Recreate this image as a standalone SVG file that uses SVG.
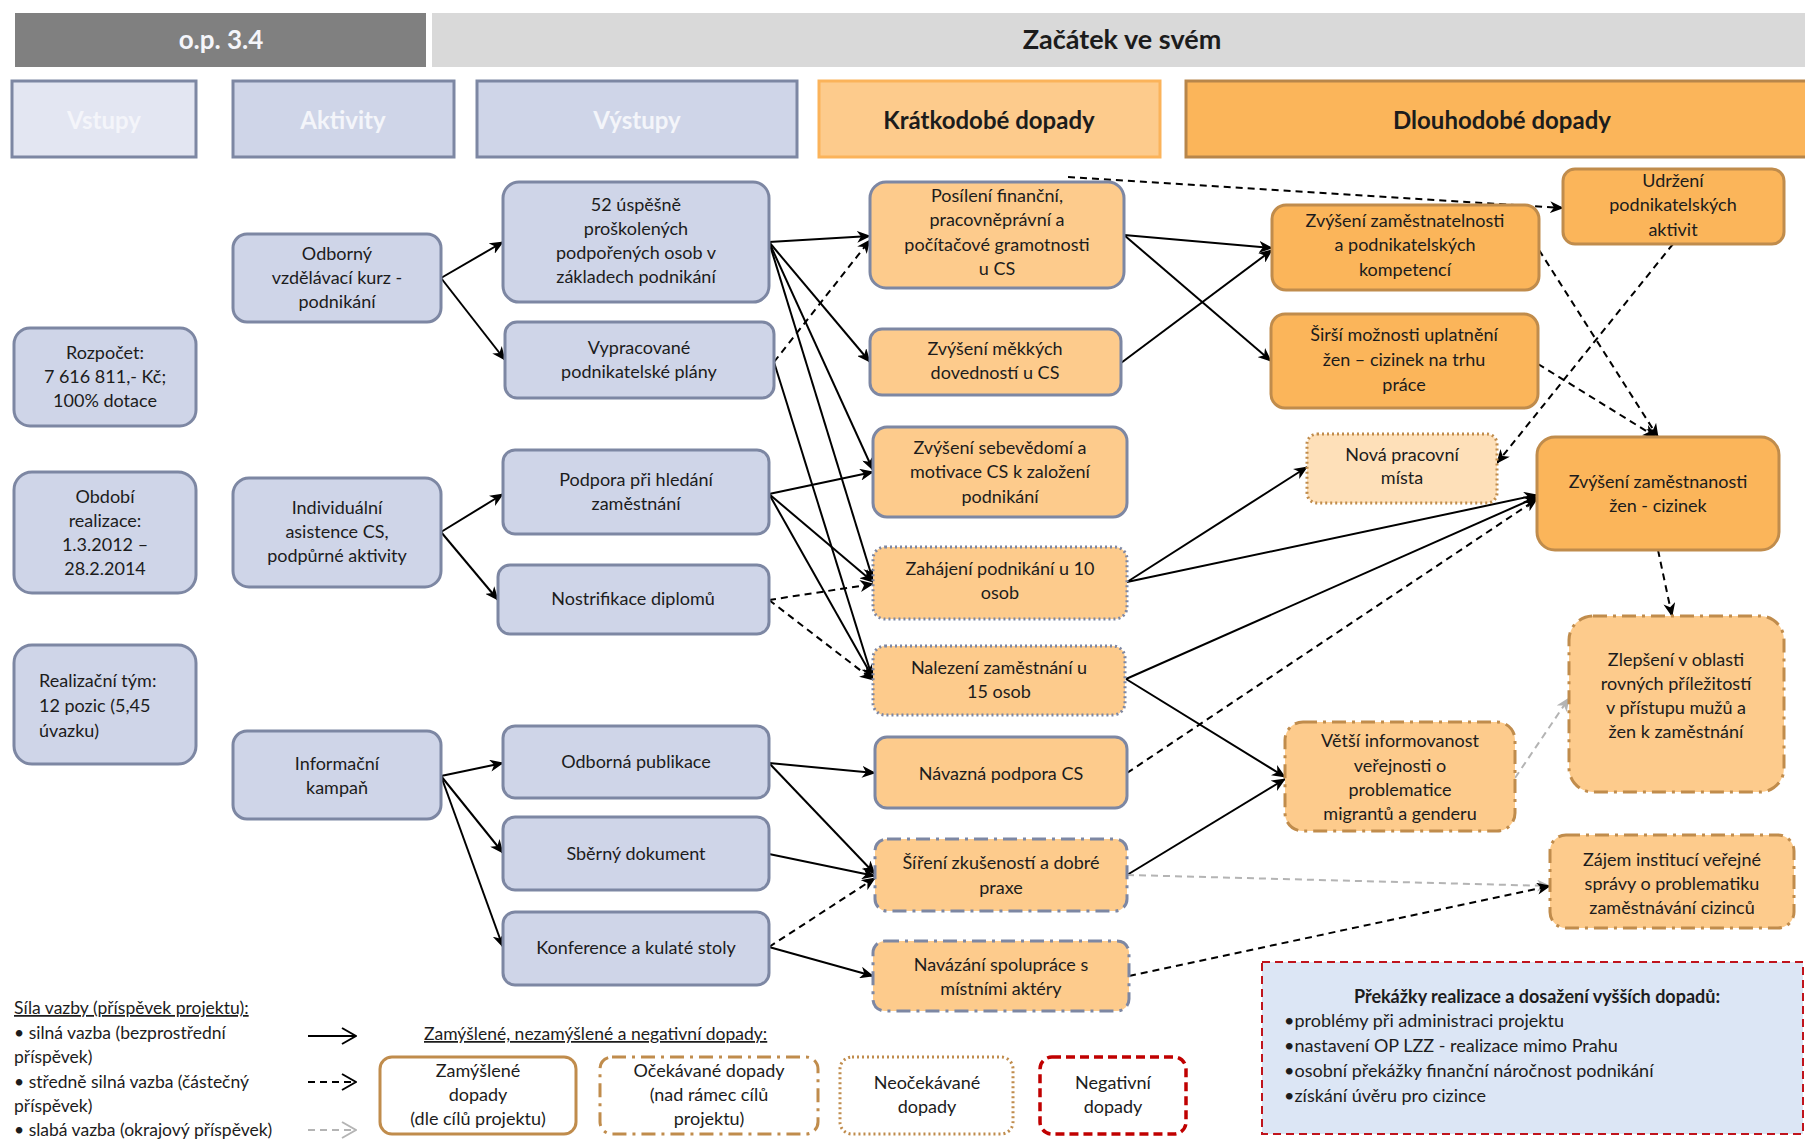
<svg xmlns="http://www.w3.org/2000/svg" width="1805" height="1141" viewBox="0 0 1805 1141">
<style>
text{font-family:Lato,"Liberation Sans",sans-serif;font-size:18px;fill:#1c1c1c;text-anchor:middle}
.hd{font-size:24px;font-weight:bold}
.hw{fill:#f4f5fa}
.bl{fill:#cfd5e8;stroke:#7d87a3;stroke-width:3}
.st{fill:#fdcb8c;stroke:#7d87a3;stroke-width:3}
.lt{fill:#fbb55a;stroke:#c08c4c;stroke-width:3}
.ltl{fill:#fdcb8c;stroke:#c08c4c;stroke-width:3}
.dot{stroke-dasharray:2 3}
.dd{stroke-dasharray:14 6 3 6}
.c{fill:none;stroke:#000;stroke-width:2}
.d{stroke-dasharray:7 5}
.g{stroke:#b4b4b4}
.lg{font-size:17.5px;text-anchor:start}
.u{text-decoration:underline}
</style>
<defs>
<marker id="ah" viewBox="0 0 14 12" refX="13" refY="6" markerWidth="14" markerHeight="12" markerUnits="userSpaceOnUse" orient="auto"><path d="M0,0 L14,6 L0,12 L4,6 z" fill="#000"/></marker>
<marker id="ahg" viewBox="0 0 14 12" refX="13" refY="6" markerWidth="14" markerHeight="12" markerUnits="userSpaceOnUse" orient="auto"><path d="M0,0 L14,6 L0,12 L4,6 z" fill="#b4b4b4"/></marker>
<marker id="chev" viewBox="0 0 16 18" refX="15" refY="9" markerWidth="16" markerHeight="18" markerUnits="userSpaceOnUse" orient="auto"><path d="M1,1 L15,9 L1,17" fill="none" stroke="#000" stroke-width="2"/></marker>
<marker id="chevg" viewBox="0 0 16 18" refX="15" refY="9" markerWidth="16" markerHeight="18" markerUnits="userSpaceOnUse" orient="auto"><path d="M1,1 L15,9 L1,17" fill="none" stroke="#b4b4b4" stroke-width="2"/></marker>
</defs>
<rect width="1805" height="1141" fill="#fff"/>

<g id="header">
<rect x="15" y="13" width="411" height="54" fill="#808080"/>
<text x="221" y="49" class="hd hw" style="font-size:26px">o.p. 3.4</text>
<rect x="432" y="13" width="1373" height="54" fill="#d9d9d9"/>
<text x="1122" y="49" class="hd" style="font-size:27px">Začátek ve svém</text>
</g>

<g id="col-headers">
<rect x="12" y="81" width="184" height="76" fill="#e3e6f2" stroke="#7d87a3" stroke-width="3"/>
<text x="104" y="129" class="hd hw">Vstupy</text>
<rect x="233" y="81" width="221" height="76" fill="#cfd5e8" stroke="#7d87a3" stroke-width="3"/>
<text x="343" y="129" class="hd hw">Aktivity</text>
<rect x="477" y="81" width="320" height="76" fill="#cfd5e8" stroke="#7d87a3" stroke-width="3"/>
<text x="637" y="129" class="hd hw">Výstupy</text>
<rect x="819" y="81" width="341" height="76" fill="#fdcb8c" stroke="#fbb35a" stroke-width="3"/>
<text x="989" y="129" class="hd">Krátkodobé dopady</text>
<rect x="1186" y="81" width="625" height="76" fill="#fbb55a" stroke="#b8864a" stroke-width="3"/>
<text x="1502" y="129" class="hd">Dlouhodobé dopady</text>
</g>

<g id="connectors">
<path class="c" marker-end="url(#ah)" d="M441,278 L503,242"/>
<path class="c" marker-end="url(#ah)" d="M441,278 L505,360"/>
<path class="c" marker-end="url(#ah)" d="M441,532 L503,494"/>
<path class="c" marker-end="url(#ah)" d="M441,532 L498,600"/>
<path class="c" marker-end="url(#ah)" d="M441,776 L503,763"/>
<path class="c" marker-end="url(#ah)" d="M441,776 L503,853"/>
<path class="c" marker-end="url(#ah)" d="M441,776 L503,947"/>

<path class="c" marker-end="url(#ah)" d="M769,242 L870,236"/>
<path class="c" marker-end="url(#ah)" d="M769,242 L870,362"/>
<path class="c" marker-end="url(#ah)" d="M769,242 L873,470"/>
<path class="c" marker-end="url(#ah)" d="M769,242 L873,580"/>
<path class="c d" marker-end="url(#ah)" d="M774,362 L870,240"/>
<path class="c" marker-end="url(#ah)" d="M774,362 L873,680"/>
<path class="c" marker-end="url(#ah)" d="M769,494 L873,472"/>
<path class="c" marker-end="url(#ah)" d="M769,494 L873,582"/>
<path class="c" marker-end="url(#ah)" d="M769,494 L873,678"/>
<path class="c d" marker-end="url(#ah)" d="M769,600 L873,584"/>
<path class="c d" marker-end="url(#ah)" d="M769,600 L873,680"/>
<path class="c" marker-end="url(#ah)" d="M769,763 L875,773"/>
<path class="c" marker-end="url(#ah)" d="M769,763 L875,874"/>
<path class="c" marker-end="url(#ah)" d="M769,854 L875,876"/>
<path class="c d" marker-end="url(#ah)" d="M769,947 L875,878"/>
<path class="c" marker-end="url(#ah)" d="M769,947 L873,976"/>

<path class="c" marker-end="url(#ah)" d="M1124,235 L1272,248"/>
<path class="c" marker-end="url(#ah)" d="M1124,235 L1271,361"/>
<path class="c" marker-end="url(#ah)" d="M1121,363 L1272,250"/>
<path class="c d" marker-end="url(#ah)" d="M1068,177 L1563,208"/>
<path class="c d" marker-end="url(#ah)" d="M1539,250 L1658,437"/>
<path class="c d" marker-end="url(#ah)" d="M1538,364 L1656,437"/>
<path class="c d" marker-end="url(#ah)" d="M1673,244 L1497,463"/>
<path class="c" marker-end="url(#ah)" d="M1127,582 L1307,467"/>
<path class="c" marker-end="url(#ah)" d="M1127,582 L1537,495"/>
<path class="c" marker-end="url(#ah)" d="M1126,679 L1537,497"/>
<path class="c" marker-end="url(#ah)" d="M1126,679 L1285,777"/>
<path class="c d" marker-end="url(#ah)" d="M1127,773 L1537,499"/>
<path class="c" marker-end="url(#ah)" d="M1127,875 L1285,779"/>
<path class="c d g" marker-end="url(#ahg)" d="M1127,875 L1550,886"/>
<path class="c d" marker-end="url(#ah)" d="M1129,976 L1550,886"/>
<path class="c d" marker-end="url(#ah)" d="M1658,550 L1672,616"/>
<path class="c d g" marker-end="url(#ahg)" d="M1515,778 L1569,698"/>
</g>

<g id="in-rozpocet">
<rect class="bl" x="14" y="328" width="182" height="98" rx="16"/>
<text x="105" y="359">Rozpočet:</text><text x="105" y="383">7 616 811,- Kč;</text><text x="105" y="407">100% dotace</text>
</g>
<g id="in-obdobi">
<rect class="bl" x="14" y="472" width="182" height="121" rx="18"/>
<text x="105" y="503">Období</text><text x="105" y="527">realizace:</text><text x="105" y="551">1.3.2012 –</text><text x="105" y="575">28.2.2014</text>
</g>
<g id="in-tym">
<rect class="bl" x="14" y="645" width="182" height="119" rx="18"/>
<text x="39" y="687" style="text-anchor:start">Realizační tým:</text><text x="39" y="712" style="text-anchor:start">12 pozic (5,45</text><text x="39" y="737" style="text-anchor:start">úvazku)</text>
</g>

<g id="act-kurz">
<rect class="bl" x="233" y="234" width="208" height="88" rx="14"/>
<text x="337" y="260">Odborný</text><text x="337" y="284">vzdělávací kurz -</text><text x="337" y="308">podnikání</text>
</g>
<g id="act-asistence">
<rect class="bl" x="233" y="478" width="208" height="109" rx="16"/>
<text x="337" y="514">Individuální</text><text x="337" y="538">asistence CS,</text><text x="337" y="562">podpůrné aktivity</text>
</g>
<g id="act-kampan">
<rect class="bl" x="233" y="731" width="208" height="88" rx="14"/>
<text x="337" y="770">Informační</text><text x="337" y="794">kampaň</text>
</g>

<g id="out-52">
<rect class="bl" x="503" y="182" width="266" height="120" rx="16"/>
<text x="636" y="211">52 úspěšně</text><text x="636" y="235">proškolených</text><text x="636" y="259">podpořených osob  v</text><text x="636" y="283">základech podnikání</text>
</g>
<g id="out-plany">
<rect class="bl" x="505" y="322" width="269" height="76" rx="12"/>
<text x="639" y="354">Vypracované</text><text x="639" y="378">podnikatelské plány</text>
</g>
<g id="out-podpora">
<rect class="bl" x="503" y="450" width="266" height="84" rx="12"/>
<text x="636" y="486">Podpora při hledání</text><text x="636" y="510">zaměstnání</text>
</g>
<g id="out-nostrifikace">
<rect class="bl" x="498" y="565" width="271" height="69" rx="12"/>
<text x="633" y="605">Nostrifikace diplomů</text>
</g>
<g id="out-publikace">
<rect class="bl" x="503" y="726" width="266" height="72" rx="12"/>
<text x="636" y="768">Odborná publikace</text>
</g>
<g id="out-dokument">
<rect class="bl" x="503" y="817" width="266" height="73" rx="12"/>
<text x="636" y="860">Sběrný dokument</text>
</g>
<g id="out-konference">
<rect class="bl" x="503" y="912" width="266" height="73" rx="12"/>
<text x="636" y="954">Konference a kulaté stoly</text>
</g>

<g id="st-posileni">
<rect class="st" x="870" y="182" width="254" height="106" rx="16"/>
<text x="997" y="202">Posílení finanční,</text><text x="997" y="226">pracovněprávní a</text><text x="997" y="251">počítačové gramotnosti</text><text x="997" y="275">u CS</text>
</g>
<g id="st-mekke">
<rect class="st" x="870" y="329" width="251" height="66" rx="12"/>
<text x="995" y="355">Zvýšení měkkých</text><text x="995" y="379">dovedností u CS</text>
</g>
<g id="st-sebevedomi">
<rect class="st" x="873" y="427" width="254" height="90" rx="14"/>
<text x="1000" y="454">Zvýšení sebevědomí a</text><text x="1000" y="478">motivace CS k založení</text><text x="1000" y="503">podnikání</text>
</g>
<g id="st-zahajeni">
<rect class="st dot" x="873" y="547" width="254" height="72" rx="12"/>
<text x="1000" y="575">Zahájení podnikání u 10</text><text x="1000" y="599">osob</text>
</g>
<g id="st-nalezeni">
<rect class="st dot" x="873" y="646" width="252" height="69" rx="12"/>
<text x="999" y="674">Nalezení zaměstnání u</text><text x="999" y="698">15 osob</text>
</g>
<g id="st-navazna">
<rect class="st" x="875" y="737" width="252" height="71" rx="12"/>
<text x="1001" y="780">Návazná podpora CS</text>
</g>
<g id="st-sireni">
<rect class="st dd" x="875" y="839" width="252" height="72" rx="12"/>
<text x="1001" y="869">Šíření zkušeností a dobré</text><text x="1001" y="894">praxe</text>
</g>
<g id="st-spoluprace">
<rect class="st dd" x="873" y="941" width="256" height="70" rx="12"/>
<text x="1001" y="971">Navázání spolupráce s</text><text x="1001" y="995">místními aktéry</text>
</g>

<g id="lt-zamestnatelnost">
<rect class="lt" x="1272" y="205" width="267" height="85" rx="14"/>
<text x="1405" y="227">Zvýšení zaměstnatelnosti</text><text x="1405" y="251">a podnikatelských</text><text x="1405" y="276">kompetencí</text>
</g>
<g id="lt-sirsi">
<rect class="lt" x="1271" y="314" width="267" height="94" rx="14"/>
<text x="1404" y="341">Širší možnosti uplatnění</text><text x="1404" y="366">žen – cizinek na trhu</text><text x="1404" y="391">práce</text>
</g>
<g id="lt-udrzeni">
<rect class="lt" x="1563" y="169" width="221" height="75" rx="12"/>
<text x="1673" y="187">Udržení</text><text x="1673" y="211">podnikatelských</text><text x="1673" y="236">aktivit</text>
</g>
<g id="lt-nova-mista">
<rect x="1307" y="434" width="190" height="69" rx="10" fill="#fee0b9" stroke="#c08c4c" stroke-width="3" class="dot"/>
<text x="1402" y="461">Nová pracovní</text><text x="1402" y="484">místa</text>
</g>
<g id="lt-zamestnanost">
<rect class="lt" x="1537" y="437" width="242" height="113" rx="18"/>
<text x="1658" y="488">Zvýšení zaměstnanosti</text><text x="1658" y="512">žen - cizinek</text>
</g>
<g id="lt-zlepseni">
<rect class="ltl dd" x="1569" y="616" width="215" height="176" rx="24"/>
<text x="1676" y="666">Zlepšení v oblasti</text><text x="1676" y="690">rovných příležitostí</text><text x="1676" y="714">v přístupu mužů a</text><text x="1676" y="738">žen k zaměstnání</text>
</g>
<g id="lt-informovanost">
<rect class="ltl dd" x="1285" y="722" width="230" height="109" rx="18"/>
<text x="1400" y="747">Větší informovanost</text><text x="1400" y="772">veřejnosti o</text><text x="1400" y="796">problematice</text><text x="1400" y="820">migrantů a genderu</text>
</g>
<g id="lt-zajem">
<rect class="ltl dd" x="1550" y="835" width="244" height="93" rx="16"/>
<text x="1672" y="866">Zájem institucí veřejné</text><text x="1672" y="890">správy o problematiku</text><text x="1672" y="914">zaměstnávání cizinců</text>
</g>

<g id="obstacles">
<rect x="1262" y="962" width="541" height="172" fill="#dce6f5" stroke="#c0141c" stroke-width="2" stroke-dasharray="8 5"/>
<text x="1537" y="1003" style="font-weight:bold">Překážky realizace a dosažení vyšších dopadů:</text>
<text x="1284" y="1027" style="text-anchor:start">•problémy při administraci projektu</text>
<text x="1284" y="1052" style="text-anchor:start">•nastavení OP LZZ  -  realizace mimo Prahu</text>
<text x="1284" y="1077" style="text-anchor:start">•osobní překážky finanční náročnost podnikání</text>
<text x="1284" y="1102" style="text-anchor:start">•získání úvěru pro  cizince</text>
</g>

<g id="legend-links">
<text x="14" y="1014" class="lg u">Síla vazby (příspěvek projektu):</text>
<text x="14" y="1039" class="lg">• silná vazba (bezprostřední</text>
<text x="14" y="1063" class="lg">příspěvek)</text>
<text x="14" y="1088" class="lg">• středně silná vazba (částečný</text>
<text x="14" y="1112" class="lg">příspěvek)</text>
<text x="14" y="1136" class="lg">• slabá vazba (okrajový příspěvek)</text>
<path class="c" marker-end="url(#chev)" d="M308,1036 L356,1036"/>
<path class="c d" marker-end="url(#chev)" d="M308,1082 L356,1082"/>
<path class="c d g" marker-end="url(#chevg)" d="M308,1130 L356,1130"/>
</g>

<g id="legend-impacts">
<text x="424" y="1040" class="lg u">Zamýšlené, nezamýšlené a negativní dopady:</text>
<rect x="380" y="1057" width="196" height="77" rx="12" fill="#fff" stroke="#c08c4c" stroke-width="3"/>
<text x="478" y="1077">Zamýšlené</text><text x="478" y="1101">dopady</text><text x="478" y="1125">(dle cílů projektu)</text>
<rect x="600" y="1057" width="218" height="77" rx="12" fill="#fff" stroke="#c08c4c" stroke-width="3" class="dd"/>
<text x="709" y="1077">Očekávané dopady</text><text x="709" y="1101">(nad rámec  cílů</text><text x="709" y="1125">projektu)</text>
<rect x="840" y="1057" width="173" height="77" rx="12" fill="#fff" stroke="#c08c4c" stroke-width="3" class="dot"/>
<text x="927" y="1089">Neočekávané</text><text x="927" y="1113">dopady</text>
<rect x="1040" y="1057" width="146" height="77" rx="12" fill="#fff" stroke="#c00000" stroke-width="3.5" stroke-dasharray="9 5"/>
<text x="1113" y="1089">Negativní</text><text x="1113" y="1113">dopady</text>
</g>
</svg>
